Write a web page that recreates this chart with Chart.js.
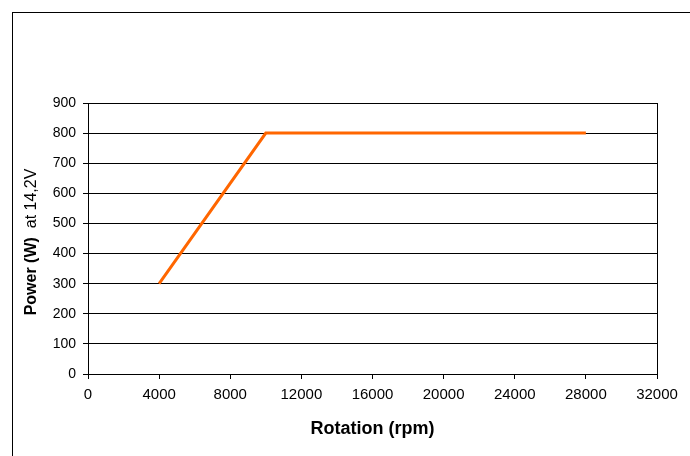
<!DOCTYPE html>
<html>
<head>
<meta charset="utf-8">
<script src="https://cdn.jsdelivr.net/npm/chart.js@4/dist/chart.umd.min.js"></script>
<style>
  html, body { margin: 0; padding: 0; background: #fff; }
  #wrap { position: relative; width: 690px; height: 456px; overflow: hidden; }
  #frame { position: absolute; left: 12px; top: 12px; width: 800px; height: 600px; border-left: 1px solid #000; border-top: 1px solid #000; box-sizing: border-box; }
  canvas { position: absolute; left: 0; top: 0; }
</style>
</head>
<body>
<div id="wrap">
  <div id="frame"></div>
  <canvas id="c" width="690" height="456"></canvas>
</div>
<script>
const rotationRpm = [4000, 10000, 28000];
const powerW = [300, 800, 800];
const xTicks = [0, 4000, 8000, 12000, 16000, 20000, 24000, 28000, 32000];
const yTicks = [0, 100, 200, 300, 400, 500, 600, 700, 800, 900];
const xTitle = 'Rotation (rpm)';
const yTitleBold = 'Power (W)';
const yTitleRest = '  at 14,2V';

const FONT = '"Liberation Sans", Arial, sans-serif';

const plotFrame = {
  id: 'plotFrame',
  afterDatasetsDraw(chart) {
    const a = chart.chartArea, ctx = chart.ctx;
    ctx.save();
    ctx.strokeStyle = '#000';
    ctx.lineWidth = 1;
    ctx.strokeRect(Math.round(a.left) + 0.5, Math.round(a.top) + 0.5, Math.round(a.right - a.left), Math.round(a.bottom - a.top));
    ctx.restore();
  },
  afterDraw(chart) {
    const ctx = chart.ctx;
    ctx.save();
    ctx.translate(32, 242);
    ctx.rotate(-Math.PI / 2);
    ctx.fillStyle = '#000';
    ctx.textBaseline = 'middle';
    ctx.font = 'bold 16px ' + FONT;
    const w1 = ctx.measureText(yTitleBold).width;
    ctx.font = '16px ' + FONT;
    const w2 = ctx.measureText(yTitleRest).width;
    const x = -(w1 + w2) / 2;
    ctx.textAlign = 'left';
    ctx.font = 'bold 16px ' + FONT;
    ctx.fillText(yTitleBold, x, 0);
    ctx.font = '16px ' + FONT;
    ctx.fillText(yTitleRest, x + w1, 0);
    ctx.restore();
  }
};

new Chart(document.getElementById('c'), {
  type: 'scatter',
  data: {
    datasets: [{
      data: rotationRpm.map((x, i) => ({ x: x, y: powerW[i] })),
      showLine: true,
      borderColor: '#FF6600',
      backgroundColor: '#FF6600',
      borderWidth: 3,
      pointRadius: 0,
      tension: 0
    }]
  },
  options: {
    responsive: false,
    animation: false,
    devicePixelRatio: 1,
    layout: { padding: { left: 0, top: 103, right: 33, bottom: 0 } },
    plugins: { legend: { display: false }, tooltip: { enabled: false } },
    scales: {
      x: {
        type: 'linear',
        min: 0, max: 32000,
        afterBuildTicks(s) { s.ticks = xTicks.map(v => ({ value: v })); },
        afterFit(s) { s.height = 82; },
        grid: { drawOnChartArea: false, drawTicks: true, tickLength: 5, color: '#000', tickColor: '#000' },
        border: { display: true, color: '#000' },
        ticks: { color: '#000', padding: 7, font: { family: FONT, size: 15 }, maxRotation: 0, autoSkip: false, callback: v => String(v) },
        title: { display: true, text: xTitle, color: '#000', font: { family: FONT, size: 18, weight: 'bold' }, padding: { top: 4, bottom: 16 } }
      },
      y: {
        type: 'linear',
        min: 0, max: 900,
        afterBuildTicks(s) { s.ticks = yTicks.map(v => ({ value: v })); },
        afterFit(s) { s.width = 88; },
        grid: { drawOnChartArea: true, drawTicks: true, tickLength: 5, color: '#000', tickColor: '#000' },
        border: { display: true, color: '#000' },
        ticks: { color: '#000', padding: 7, font: { family: FONT, size: 14 }, autoSkip: false, callback: v => String(v) }
      }
    }
  },
  plugins: [plotFrame]
});
</script>
</body>
</html>
